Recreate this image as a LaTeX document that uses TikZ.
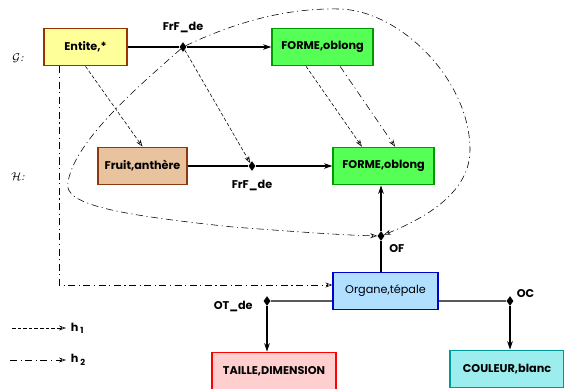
\documentclass[tikz,border=0pt]{standalone}
\usepackage{fontspec}
\setsansfont{Poppins}
\usepackage{xcolor}
\usepackage{tikz}
\usetikzlibrary{shapes,arrows.meta,positioning}

\definecolor{entitefill}{HTML}{FFFF99}
\definecolor{entiteline}{HTML}{993300}
\definecolor{formefill}{HTML}{55FF55}
\definecolor{formeline}{HTML}{009A00}
\definecolor{fruitfill}{HTML}{E8C39E}
\definecolor{fruitline}{HTML}{8B3A0F}
\definecolor{organefill}{HTML}{B0DFFF}
\definecolor{organeline}{HTML}{0000CC}
\definecolor{taillefill}{HTML}{FFCFCF}
\definecolor{couleurfill}{HTML}{9CEEEE}
\definecolor{couleurline}{HTML}{009999}

\begin{document}
\begin{tikzpicture}[x=0.025cm,y=-0.025cm,
    font=\sffamily\bfseries\fontsize{8}{9}\selectfont,
    concept/.style={draw,thick,minimum height=0.94cm,inner sep=2pt},
    rel/.style={diamond,fill=black,inner sep=0pt,minimum width=5pt,minimum height=7pt},
    link/.style={thick,-{Stealth[length=6pt,width=4pt]}},
    hone/.style={thin,dash pattern=on 2.5pt off 1.5pt,-{Stealth[length=5pt,width=3.5pt,open]}},
    htwo/.style={thin,dash pattern=on 5pt off 2.5pt on 0.8pt off 2.5pt,-{Stealth[length=5pt,width=3.5pt,open]}}]
  \useasboundingbox (0,0) rectangle (564,388);

  % niveau G
  \node[font=\rmfamily\fontsize{8}{9}\selectfont] (levG) at (18,58) {$\mathcal{G}$\textit{:}};
  \node[concept,fill=entitefill,draw=entiteline,minimum width=2.075cm] (entite) at (85.5,47) {Entite,*};
  \node[rel] (frfG) at (183,47) {};
  \node[above=3pt of frfG] (frfGlab) {FrF\_de};
  \node[concept,fill=formefill,draw=formeline,minimum width=2.525cm] (formeG) at (322.5,47) {FORME,oblong};

  % niveau H
  \node[font=\rmfamily\fontsize{8}{9}\selectfont] (levH) at (18,177) {$\mathcal{H}$\textit{:}};
  \node[concept,fill=fruitfill,draw=fruitline,minimum width=2.225cm] (fruit) at (142.5,166) {Fruit,anthère};
  \node[rel] (frfH) at (252,166) {};
  \node[below=3pt of frfH] (frfHlab) {FrF\_de};
  \node[concept,fill=formefill,draw=formeline,minimum width=2.525cm] (formeH) at (383.5,166) {FORME,oblong};

  \node[concept,fill=organefill,draw=organeline,minimum width=2.625cm,
        font=\sffamily\fontsize{8}{9}\selectfont] (organe) at (385.5,291) {Organe,tépale};
  \node[rel] (of) at (381,236) {};
  \node[below right=1pt and 1pt of of] (oflab) {OF};
  \node[rel] (oc) at (510,301) {};
  \node[above right=-3pt and 0pt of oc] (oclab) {OC};
  \node[rel] (ot) at (267,301) {};
  \node[left=4pt of ot,yshift=-4pt] (otlab) {OT\_de};
  \node[concept,fill=taillefill,draw=red,minimum width=3.1cm] (taille) at (274,371) {TAILLE,DIMENSION};
  \node[concept,fill=couleurfill,draw=couleurline,minimum width=2.85cm] (couleur) at (507,369) {COULEUR,blanc};

  \draw[thick] (entite) -- (frfG);
  \draw[link] (frfG) -- (formeG);
  \draw[thick] (fruit) -- (frfH);
  \draw[link] (frfH) -- (formeH);
  \draw[thick] (organe.north -| of) -- (of);
  \draw[link] (of) -- (formeH.south -| of);
  \draw[thick] ([yshift=-0.25cm]organe.east) -- (oc);
  \draw[link] (oc) -- (couleur.north -| oc);
  \draw[thick] ([yshift=-0.25cm]organe.west) -- (ot);
  \draw[link] (ot) -- (taille.north -| ot);

  % projections h1 et h2
  \draw[hone] (entite.south) -- (fruit.north);
  \draw[hone] (frfG) -- (frfH);
  \draw[hone] ([xshift=-0.41cm]formeG.south) -- ([xshift=-0.54cm]formeH.north);
  \draw[htwo] ([xshift=0.44cm]formeG.south) -- ([xshift=0.29cm]formeH.north);
  \draw[htwo] ([xshift=-0.66cm]entite.south) |- ([yshift=0.15cm]organe.west);
  \draw[htwo] (frfG) .. controls (240,20) and (290,8) .. (339,9)
    .. controls (400,10) and (470,80) .. (470,150)
    .. controls (470,195) and (420,220) .. (of);
  \draw[htwo] (frfG) .. controls (140,85) and (75,140) .. (68,182)
    .. controls (62,205) and (120,215) .. (233,227)
    .. controls (300,232) and (340,235) .. (of);

  % legende
  \coordinate (honestart) at (12,328);
  \node[anchor=west] (honelab) at (66,328) {h\,\textsubscript{1}};
  \draw[hone] (honestart) -- (honelab);
  \coordinate (htwostart) at (10,360);
  \node[anchor=west] (htwolab) at (66,360) {h\,\textsubscript{2}};
  \draw[htwo] (htwostart) -- (htwolab);
\end{tikzpicture}
\end{document}
